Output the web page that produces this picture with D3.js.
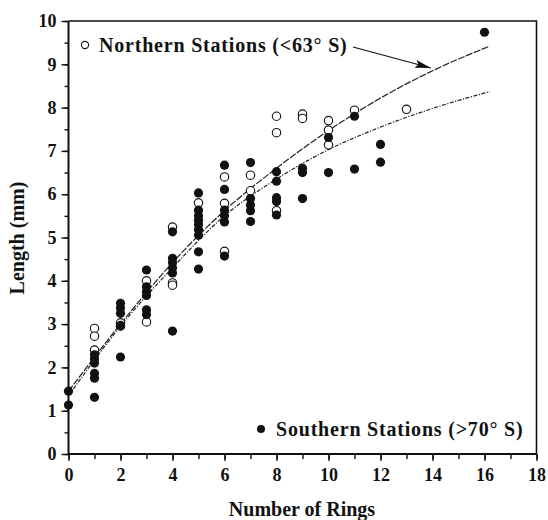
<!DOCTYPE html>
<html>
<head>
<meta charset="utf-8">
<script src="https://cdn.jsdelivr.net/npm/d3@7"></script>
<style>
  body { margin: 0; background: #fff; }
  svg text { font-family: "Liberation Serif", "Times New Roman", serif; font-weight: bold; fill: #111; }
</style>
</head>
<body>
<div id="container"></div>
<script>
// Northern stations (<63° S), open circles
const northRings  = [1, 1, 1, 2, 2, 3, 3, 4, 4, 4, 5, 6, 6, 6, 7, 7, 8, 8, 8, 9, 9, 10, 10, 10, 11, 13];
const northLength = [2.9, 2.72, 2.4, 3.03, 2.95, 4.0, 3.05, 5.24, 3.95, 3.9, 5.8, 6.4, 5.79, 4.68, 6.44, 6.08,
                     7.8, 7.42, 5.62, 7.85, 7.75, 7.7, 7.48, 7.14, 7.94, 7.96];

// Southern stations (>70° S), filled circles
const southRings  = [0, 0, 1, 1, 1, 1, 1, 1, 2, 2, 2, 2, 2, 3, 3, 3, 3, 3, 3, 4, 4, 4, 4, 4, 4,
                     5, 5, 5, 5, 5, 5, 5, 5, 5, 6, 6, 6, 6, 6, 6, 7, 7, 7, 7, 7, 8, 8, 8, 8, 8,
                     9, 9, 9, 10, 10, 11, 11, 12, 12, 16];
const southLength = [1.45, 1.13, 2.29, 2.2, 2.1, 1.86, 1.75, 1.31, 3.48, 3.37, 3.25, 2.97, 2.24,
                     4.25, 3.86, 3.75, 3.66, 3.33, 3.22, 5.13, 4.52, 4.42, 4.3, 4.18, 2.84,
                     6.03, 5.63, 5.5, 5.4, 5.3, 5.18, 5.05, 4.67, 4.27, 6.67, 6.11, 5.63, 5.5, 5.36, 4.57,
                     6.73, 5.9, 5.75, 5.62, 5.37, 6.52, 6.3, 5.92, 5.83, 5.52,
                     6.6, 6.5, 5.9, 7.31, 6.5, 7.8, 6.58, 7.15, 6.74, 9.74];

// fitted growth curves
const curveRings   = [0, 2, 4, 6, 8, 10, 12, 14, 16.2];
const northCurve   = [1.45, 3.0, 4.42, 5.62, 6.6, 7.47, 8.22, 8.85, 9.42];
const southCurve   = [1.35, 2.95, 4.3, 5.5, 6.35, 7.03, 7.55, 7.98, 8.37];

const xTicks = d3.range(0, 19, 2);
const yTicks = d3.range(0, 11, 1);

const width = 548;
const height = 520;

const x = d3.scaleLinear().domain([0, 18]).range([68.5, 536.5]);
const y = d3.scaleLinear().domain([0, 10]).range([454, 21]);

const svg = d3.create("svg")
    .attr("width", width)
    .attr("height", height)
    .attr("viewBox", [0, 0, width, height]);

// frame
svg.append("path")
    .attr("d", `M${x(0)},${y(10)}H${x(18)}V${y(0)}`)
    .attr("fill", "none")
    .attr("stroke", "#111")
    .attr("stroke-width", 1.6);

// x axis: minor then major ticks
const gx = svg.append("g").attr("transform", `translate(0,${y(0)})`);
gx.append("g")
    .call(d3.axisBottom(x).tickValues(d3.range(0, 19, 1)).tickSize(5).tickFormat(""));
gx.append("g")
    .call(d3.axisBottom(x).tickValues(xTicks).tickSize(7).tickPadding(7))
    .attr("font-size", 18);

// y axis
const gy = svg.append("g").attr("transform", `translate(${x(0)},0)`);
gy.append("g")
    .call(d3.axisLeft(y).tickValues(d3.range(0, 10.5, 0.5)).tickSize(4).tickFormat(""));
gy.append("g")
    .call(d3.axisLeft(y).tickValues(yTicks).tickSize(7).tickPadding(5))
    .attr("font-size", 18);

svg.selectAll(".domain").remove();
svg.selectAll(".tick line").attr("stroke", "#111").attr("stroke-width", 1.4);
svg.selectAll(".tick text").attr("fill", "#111").attr("font-family", null);

svg.append("line")
    .attr("x1", x(0)).attr("x2", x(18))
    .attr("y1", y(0)).attr("y2", y(0))
    .attr("stroke", "#111").attr("stroke-width", 2);
svg.append("line")
    .attr("x1", x(0)).attr("x2", x(0))
    .attr("y1", y(0)).attr("y2", y(10))
    .attr("stroke", "#111").attr("stroke-width", 2);

// curves
const line = d3.line()
    .x((d, i) => x(curveRings[i]))
    .y(d => y(d))
    .curve(d3.curveMonotoneX);

svg.append("path")
    .attr("d", line(northCurve))
    .attr("fill", "none")
    .attr("stroke", "#222")
    .attr("stroke-width", 1.2)
    .attr("stroke-dasharray", "7,1.5");

svg.append("path")
    .attr("d", line(southCurve))
    .attr("fill", "none")
    .attr("stroke", "#222")
    .attr("stroke-width", 1.2)
    .attr("stroke-dasharray", "4,1.5,1.2,1.5");

// points
svg.append("g")
    .selectAll("circle")
    .data(northRings)
    .join("circle")
    .attr("cx", d => x(d))
    .attr("cy", (d, i) => y(northLength[i]))
    .attr("r", 4.2)
    .attr("fill", "#fff")
    .attr("stroke", "#111")
    .attr("stroke-width", 1.1);

svg.append("g")
    .selectAll("circle")
    .data(southRings)
    .join("circle")
    .attr("cx", d => x(d))
    .attr("cy", (d, i) => y(southLength[i]))
    .attr("r", 4.6)
    .attr("fill", "#111");

// legend
svg.append("circle")
    .attr("cx", 85).attr("cy", 45).attr("r", 3.6)
    .attr("fill", "#fff").attr("stroke", "#111").attr("stroke-width", 1.1);
svg.append("text")
    .attr("x", 99).attr("y", 52)
    .attr("font-size", 20)
    .attr("letter-spacing", 0.8)
    .text("Northern Stations (<63° S)");

svg.append("defs").append("marker")
    .attr("id", "arrow")
    .attr("viewBox", "0 0 16 8")
    .attr("refX", 16).attr("refY", 4)
    .attr("markerWidth", 16).attr("markerHeight", 8)
    .attr("markerUnits", "userSpaceOnUse")
    .attr("orient", "auto")
    .append("path")
    .attr("d", "M0,0L16,4L0,8L3,4Z")
    .attr("fill", "#111");

svg.append("line")
    .attr("x1", 353).attr("y1", 47)
    .attr("x2", 431).attr("y2", 68)
    .attr("stroke", "#111")
    .attr("stroke-width", 1.2)
    .attr("marker-end", "url(#arrow)");

svg.append("circle")
    .attr("cx", 261).attr("cy", 429).attr("r", 4)
    .attr("fill", "#111");
svg.append("text")
    .attr("x", 276).attr("y", 436)
    .attr("font-size", 20)
    .attr("letter-spacing", 0.8)
    .text("Southern Stations (>70° S)");

// axis titles
svg.append("text")
    .attr("x", 302).attr("y", 516)
    .attr("text-anchor", "middle")
    .attr("font-size", 20)
    .text("Number of Rings");

svg.append("text")
    .attr("transform", "translate(24,238) rotate(-90)")
    .attr("text-anchor", "middle")
    .attr("font-size", 20)
    .text("Length (mm)");

d3.select("#container").append(() => svg.node());
</script>
</body>
</html>
